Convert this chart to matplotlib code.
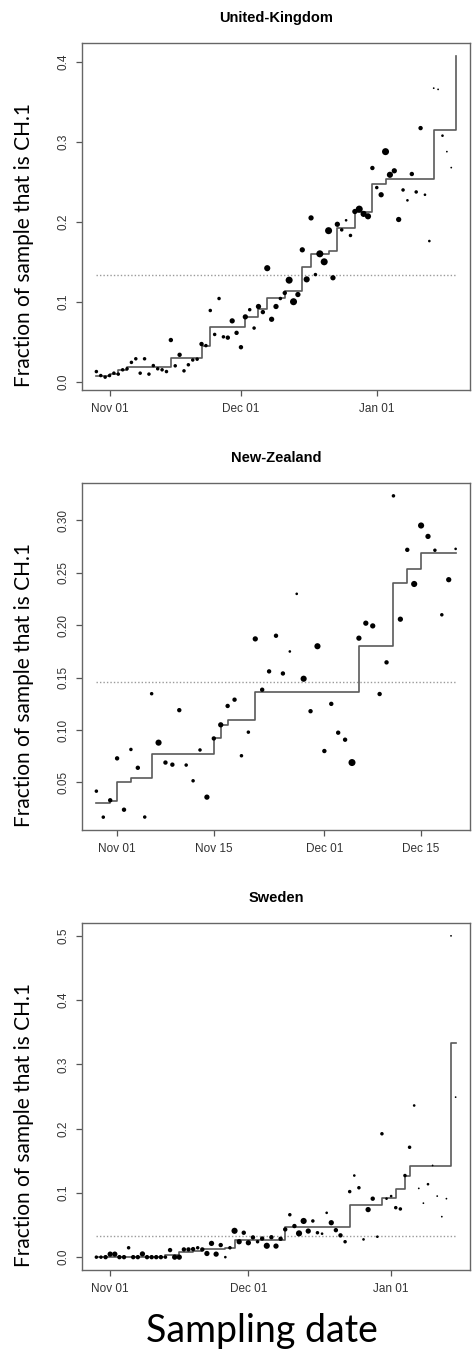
import pandas as pd
import matplotlib
matplotlib.use("Agg")
import matplotlib.pyplot as plt
import matplotlib.dates as mdates

START = pd.Timestamp("2022-11-01")

# ------------------------------
# UNITED-KINGDOM (days after Nov 01)
# ------------------------------
uk_days = list(range(-3, 79))
uk_frac = [0.0125, 0.0075, 0.0055, 0.0075, 0.0105, 0.0093, 0.0147, 0.016, 0.024, 0.0285,
           0.0105, 0.0285, 0.0093, 0.020, 0.016, 0.0147, 0.0125, 0.052, 0.0197, 0.0335,
           0.0134, 0.021, 0.027, 0.028, 0.047, 0.045, 0.089, 0.059, 0.104, 0.056,
           0.055, 0.076, 0.061, 0.043, 0.081, 0.090, 0.067, 0.094, 0.087, 0.142,
           0.078, 0.094, 0.104, 0.111, 0.127, 0.100, 0.109, 0.165, 0.128, 0.205,
           0.134, 0.160, 0.150, 0.189, 0.130, 0.197, 0.190, 0.202, 0.183, 0.213,
           0.216, 0.210, 0.207, 0.2675, 0.243, 0.234, 0.288, 0.259, 0.264, 0.203,
           0.240, 0.227, 0.260, 0.2375, 0.3175, 0.234, 0.176, 0.3675, 0.366, 0.308,
           0.288, 0.268]
uk_weight = [2, 2, 2, 2, 2, 2, 2, 2, 2, 2,
             2, 2, 2, 2, 2, 2, 2, 2.5, 2, 2.5,
             2, 2, 2, 2, 2.5, 2, 2, 2, 2, 2,
             2.5, 3, 2.5, 2.5, 3, 2, 2, 3, 2.5, 3.5,
             3, 3, 2, 2.5, 4, 4, 3, 3, 3.5, 3,
             2, 4, 4, 4, 3, 3, 2, 1.5, 2, 3,
             4, 3.5, 3.5, 2.5, 2, 3, 4, 3.5, 3, 3,
             2, 1.5, 2.5, 2, 2.5, 1.5, 1.5, 1, 1, 1.5,
             1, 1]
uk_step_days = [-3, 0, 2, 4, 14, 21, 23, 31, 34, 36, 40, 44, 46, 50, 52, 56, 60, 63, 74, 79]
uk_step_frac = [0.007, 0.010, 0.015, 0.018, 0.029, 0.045, 0.068, 0.081, 0.091, 0.105,
                0.113, 0.144, 0.160, 0.163, 0.192, 0.212, 0.247, 0.254, 0.315, 0.408]
uk_mean = 0.133

# ------------------------------
# NEW-ZEALAND
# ------------------------------
nz_days = list(range(-3, 50))
nz_frac = [0.0417, 0.0169, 0.033, 0.073, 0.024, 0.0815, 0.064, 0.017, 0.1347, 0.088,
           0.069, 0.067, 0.119, 0.0666, 0.0516, 0.081, 0.036, 0.092, 0.105, 0.123,
           0.129, 0.0755, 0.098, 0.187, 0.1385, 0.156, 0.190, 0.154, 0.175, 0.230,
           0.149, 0.118, 0.180, 0.080, 0.125, 0.0975, 0.0908, 0.069, 0.1877, 0.202,
           0.1994, 0.1344, 0.1646, 0.3235, 0.2058, 0.272, 0.2394, 0.2952, 0.2848, 0.2716,
           0.21, 0.2435, 0.2729]
nz_weight = [2, 2, 2.5, 2.5, 2.5, 2, 2.5, 2, 2, 3.5,
             2.5, 2.5, 2.5, 2, 2, 2, 3, 2.5, 3, 2.5,
             2.5, 2, 2, 3, 2.5, 2.5, 2.5, 2.5, 1.5, 1.5,
             3.5, 2.5, 3.5, 2.5, 2.5, 2.5, 2.5, 4, 3, 3,
             3, 2.5, 2.5, 2, 3, 2.5, 3.5, 3.5, 3, 2,
             2, 3, 1.5]
nz_step_days = [-3, -1, 0, 2, 5, 14, 15, 16, 20, 35, 40, 42, 44, 49]
nz_step_frac = [0.030, 0.032, 0.050, 0.054, 0.077, 0.092, 0.105, 0.110, 0.136, 0.180,
                0.240, 0.254, 0.269, 0.269]
nz_mean = 0.146

# ------------------------------
# SWEDEN
# ------------------------------
se_days = list(range(-3, 76))
se_frac = [0, 0, 0, 0.0047, 0.0047, 0, 0, 0.0146, 0, 0,
           0.005, 0, 0, 0, 0, 0, 0.011, 0, 0, 0.012,
           0.012, 0.0125, 0.0146, 0.012, 0.0057, 0.0214, 0.0047, 0.0188, 0, 0.0146,
           0.041, 0.024, 0.038, 0.0224, 0.0307, 0.024, 0.029, 0.0177, 0.031, 0.0172,
           0.0286, 0.0432, 0.066, 0.0484, 0.037, 0.0563, 0.0406, 0.0563, 0.038, 0.0365,
           0.069, 0.0536, 0.042, 0.0339, 0.024, 0.102, 0.127, 0.108, 0.0276, 0.074,
           0.091, 0.0318, 0.192, 0.091, 0.095, 0.077, 0.075, 0.127, 0.171, 0.236,
           0.107, 0.084, 0.1135, 0.1427, 0.095, 0.063, 0.091, 0.5, 0.249]
se_weight = [2, 2, 2.5, 3, 3, 2.5, 2.5, 2, 2.5, 2.5,
             3, 2.5, 2.5, 2.5, 2.5, 2, 2.5, 3, 3, 2.5,
             2.5, 2.5, 2, 2.5, 3, 3, 3, 2.5, 1.5, 2,
             3.5, 3, 2.5, 3, 2.5, 2, 2.5, 3.5, 2.5, 3,
             2.5, 2.5, 2, 2.5, 3.5, 3.5, 3, 2, 2, 1.5,
             1.5, 3, 2.5, 2.5, 2, 2, 1.5, 2, 1.5, 3,
             2.5, 1.5, 2, 1.5, 1.5, 2, 2, 2, 2, 1.5,
             1, 1, 1.5, 1, 1, 1, 1, 1, 1]
se_step_days = [-3, 12, 15, 18, 20, 25, 27, 38, 52, 59, 62, 64, 65, 74, 75]
se_step_frac = [0.0, 0.003, 0.008, 0.010, 0.013, 0.0146, 0.027, 0.047, 0.081, 0.092,
                0.106, 0.127, 0.142, 0.334, 0.334]
se_mean = 0.033


def to_dates(days):
    return START + pd.to_timedelta(days, unit="D")


def draw_panel(ax, title, days, frac, weight, step_days, step_frac, mean, locator):
    ax.scatter(to_dates(days), frac, s=[1.6 * w ** 2 for w in weight],
               color="black", linewidths=0, zorder=3)
    ax.step(to_dates(step_days), step_frac, where="post", color="#5a5a5a", lw=1.2, zorder=2)
    ax.plot(to_dates([step_days[0], step_days[-1]]), [mean, mean],
            color="#9a9a9a", lw=1.0, linestyle=(0, (1, 1.5)), zorder=1)
    ax.margins(x=0.04, y=0.04)

    ax.set_title(title, fontsize=10.5, fontweight="bold", family="Liberation Sans", pad=15)
    ax.xaxis.set_major_locator(locator)
    ax.xaxis.set_major_formatter(mdates.DateFormatter("%b %d"))
    ax.tick_params(direction="out", length=4, width=0.9, color="#555555",
                   labelcolor="#333333", labelsize=8.5, pad=5)
    for lab in ax.get_yticklabels():
        lab.set_rotation(90)
        lab.set_verticalalignment("center")
    for lab in ax.get_xticklabels() + ax.get_yticklabels():
        lab.set_family("Liberation Sans")
    for sp in ax.spines.values():
        sp.set_color("#666666")
        sp.set_linewidth(1.0)


fig = plt.figure(figsize=(4.72, 13.55), dpi=100)
W, H = 472.0, 1355.0
panel_tops = [43, 483, 923]

panels = [
    ("United-Kingdom", uk_days, uk_frac, uk_weight, uk_step_days, uk_step_frac, uk_mean,
     mdates.MonthLocator(), [0.0, 0.1, 0.2, 0.3, 0.4], "%.1f"),
    ("New-Zealand", nz_days, nz_frac, nz_weight, nz_step_days, nz_step_frac, nz_mean,
     mdates.DayLocator(bymonthday=[1, 15]), [0.05, 0.10, 0.15, 0.20, 0.25, 0.30], "%.2f"),
    ("Sweden", se_days, se_frac, se_weight, se_step_days, se_step_frac, se_mean,
     mdates.MonthLocator(), [0.0, 0.1, 0.2, 0.3, 0.4, 0.5], "%.1f"),
]

for top, p in zip(panel_tops, panels):
    ax = fig.add_axes([82 / W, 1 - (top + 347) / H, 388 / W, 347 / H])
    ax.set_yticks(p[8])
    ax.set_yticklabels([p[9] % v for v in p[8]])
    draw_panel(ax, *p[:8])
    fig.text(24 / W, 1 - (top + 202) / H, "Fraction of sample that is CH.1",
             rotation=90, ha="center", va="center", fontsize=15, family="Lato")

fig.text(262 / W, 1 - 1331 / H, "Sampling date", ha="center", va="center",
         fontsize=27, family="Lato")

fig.savefig("out.png", dpi=100)
